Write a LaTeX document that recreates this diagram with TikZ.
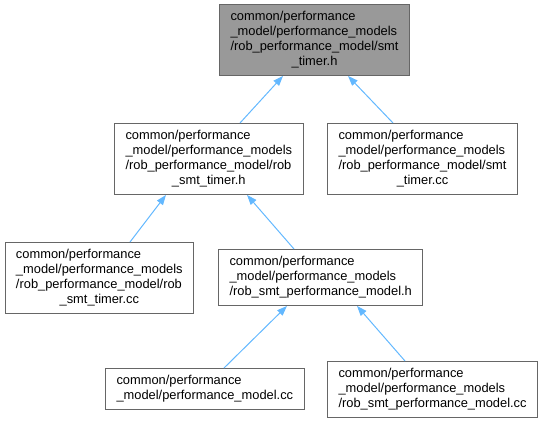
\documentclass[tikz,border=0pt]{standalone}
\usepackage{fontspec}
\setmainfont{Liberation Sans}
\usetikzlibrary{arrows.meta,calc}
\definecolor{boxline}{HTML}{666666}
\definecolor{boxfill}{HTML}{999999}
\definecolor{edgeblue}{HTML}{63B8FF}
\newcommand\boxtext[2]{\begin{tabular}{@{}l@{}}#1\\\multicolumn{1}{@{}c@{}}{#2}\end{tabular}}
\begin{document}
\begin{tikzpicture}[x=0.75pt,y=-0.75pt,
  filebox/.style={draw=boxline,line width=0.75pt,fill=white,anchor=north west,
    inner xsep=8.25pt,inner ysep=4.1pt,font=\fontsize{9.65}{11.25}\selectfont},
  topbox/.style={filebox,fill=boxfill},
  dep/.style={draw=edgeblue,line width=0.75pt,-{Triangle[length=7.5pt,width=5.5pt]}}]
\useasboundingbox (0,0) rectangle (543,422);

\node[topbox] (top) at (219,4) {\boxtext{common/performance\\\_model/performance\_models\\/rob\_performance\_model/smt}{\_timer.h}};
\node[filebox] (ml) at (114,123) {\boxtext{common/performance\\\_model/performance\_models\\/rob\_performance\_model/rob}{\_smt\_timer.h}};
\node[filebox] (mr) at (327,123) {\boxtext{common/performance\\\_model/performance\_models\\/rob\_performance\_model/smt}{\_timer.cc}};
\node[filebox] (lb) at (4.5,242) {\boxtext{common/performance\\\_model/performance\_models\\/rob\_performance\_model/rob}{\_smt\_timer.cc}};
\node[filebox] (cb) at (218,249) {\boxtext{common/performance\\\_model/performance\_models}{/rob\_smt\_performance\_model.h}};
\node[filebox] (bl) at (105,368) {\boxtext{common/performance}{\_model/performance\_model.cc}};
\node[filebox] (br) at (327,361) {\boxtext{common/performance\\\_model/performance\_models}{/rob\_smt\_performance\_model.cc}};

\draw[dep] ($(ml.north west)+(126,0)$) -- ($(top.south west)+(64,0)$);
\draw[dep] ($(mr.north west)+(66,0)$) -- ($(top.south west)+(129,0)$);
\draw[dep] ($(lb.north west)+(125.5,0)$) -- ($(ml.south west)+(52,0)$);
\draw[dep] ($(cb.north west)+(76,0)$) -- ($(ml.south west)+(133,0)$);
\draw[dep] ($(bl.north west)+(119,0)$) -- ($(cb.south west)+(69,0)$);
\draw[dep] ($(br.north west)+(78,0)$) -- ($(cb.south west)+(139,0)$);
\end{tikzpicture}
\end{document}
